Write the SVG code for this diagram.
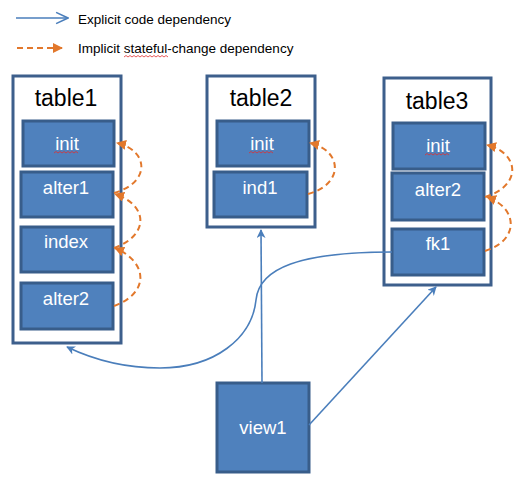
<svg xmlns="http://www.w3.org/2000/svg" width="522" height="488" viewBox="0 0 522 488">
<defs>
<style>
.outer{fill:#fff;stroke:#3d5f8c;stroke-width:3}
.inner{fill:#4f81bd;stroke:#385d8a;stroke-width:3}
.title{font-family:"Liberation Sans",Arial,sans-serif;font-size:23px;fill:#000;text-anchor:middle}
.lbl{font-family:"Liberation Sans",Arial,sans-serif;font-size:18.5px;fill:#fff;text-anchor:middle}
.leg{font-family:"Liberation Sans",Arial,sans-serif;font-size:13.5px;fill:#000}
.blue{fill:none;stroke:#4a7ebb;stroke-width:1.6}
.orange{fill:none;stroke:#e2782c;stroke-width:2;stroke-dasharray:6 4}
.squig{fill:none;stroke:#e03030;stroke-width:0.8}
</style>
<marker id="ab" viewBox="0 0 10 10" refX="9" refY="5" markerWidth="9" markerHeight="9" markerUnits="userSpaceOnUse" orient="auto">
<path d="M0,0 L10,5 L0,10 L3,5 Z" fill="#4a7ebb"/>
</marker>
<marker id="abl" viewBox="0 0 10 10" refX="9.5" refY="5" markerWidth="14" markerHeight="14" markerUnits="userSpaceOnUse" orient="auto">
<path d="M1,1 L9.5,5 L1,9" fill="none" stroke="#4a7ebb" stroke-width="1.1"/>
</marker>
<marker id="ao" viewBox="0 0 10 10" refX="9" refY="5" markerWidth="10" markerHeight="10" markerUnits="userSpaceOnUse" orient="auto">
<path d="M0,0 L10,5 L0,10 Z" fill="#e2782c"/>
</marker>
</defs>

<g id="legend">
<path class="blue" d="M16,18 L68,18" marker-end="url(#abl)"/>
<text class="leg" x="78" y="24">Explicit code dependency</text>
<path class="orange" d="M17,48 L62,48" stroke-dasharray="6 5" marker-end="url(#ao)"/>
<text class="leg" x="78" y="53">Implicit stateful-change dependency</text>
<path class="squig" d="M124,57 l2,-1.5 l2,1.5 l2,-1.5 l2,1.5 l2,-1.5 l2,1.5 l2,-1.5 l2,1.5 l2,-1.5 l2,1.5 l2,-1.5 l2,1.5 l2,-1.5 l2,1.5 l2,-1.5 l2,1.5 l2,-1.5 l2,1.5 l2,-1.5 l2,1.5 l2,-1.5 l2,1.5"/>
</g>

<g id="table1">
<rect class="outer" x="13" y="76" width="108" height="267"/>
<text class="title" x="66" y="106">table1</text>
</g>
<g id="table1-init">
<rect class="inner" x="23" y="121" width="91" height="45"/>
<text class="lbl" x="67" y="150">init</text>
<path class="squig" d="M54,153 l2,-1.5 l2,1.5 l2,-1.5 l2,1.5 l2,-1.5 l2,1.5 l2,-1.5 l2,1.5 l2,-1.5 l2,1.5 l2,-1.5 l2,1.5"/>
</g>
<g id="table1-alter1">
<rect class="inner" x="21" y="172" width="92" height="45"/>
<text class="lbl" x="66" y="194">alter1</text>
</g>
<g id="table1-index">
<rect class="inner" x="21" y="227" width="92" height="45"/>
<text class="lbl" x="66" y="248">index</text>
</g>
<g id="table1-alter2">
<rect class="inner" x="21" y="283" width="92" height="46"/>
<text class="lbl" x="66" y="305">alter2</text>
</g>

<g id="table2">
<rect class="outer" x="207" y="76" width="108" height="151"/>
<text class="title" x="261" y="106">table2</text>
</g>
<g id="table2-init">
<rect class="inner" x="217" y="121" width="92" height="45"/>
<text class="lbl" x="262" y="150">init</text>
<path class="squig" d="M249,153 l2,-1.5 l2,1.5 l2,-1.5 l2,1.5 l2,-1.5 l2,1.5 l2,-1.5 l2,1.5 l2,-1.5 l2,1.5 l2,-1.5 l2,1.5"/>
</g>
<g id="table2-ind1">
<rect class="inner" x="214" y="172" width="93" height="45"/>
<text class="lbl" x="260" y="194">ind1</text>
</g>

<g id="table3">
<rect class="outer" x="384" y="78" width="107" height="207"/>
<text class="title" x="437" y="109">table3</text>
</g>
<g id="table3-init">
<rect class="inner" x="393" y="123" width="92" height="46"/>
<text class="lbl" x="438" y="152">init</text>
<path class="squig" d="M425,155 l2,-1.5 l2,1.5 l2,-1.5 l2,1.5 l2,-1.5 l2,1.5 l2,-1.5 l2,1.5 l2,-1.5 l2,1.5 l2,-1.5 l2,1.5"/>
</g>
<g id="table3-alter2">
<rect class="inner" x="392" y="173" width="92" height="47"/>
<text class="lbl" x="438" y="196">alter2</text>
</g>
<g id="table3-fk1">
<rect class="inner" x="392" y="229" width="92" height="46"/>
<text class="lbl" x="438" y="250">fk1</text>
</g>

<g id="view1">
<rect class="inner" x="217" y="383" width="92" height="89"/>
<text class="lbl" x="263" y="434">view1</text>
</g>

<g id="connectors">
<path class="blue" d="M262,383 L261,230" marker-end="url(#ab)"/>
<path class="blue" d="M309,425 L436,287" marker-end="url(#ab)"/>
<path class="blue" d="M392,252 C300,252 259,268 256,300 C252,338 215,368 160,368 C120,368 90,358 67,347" marker-end="url(#ab)"/>
<path class="orange" d="M114,193 C152,182 148,150 117,143" marker-end="url(#ao)"/>
<path class="orange" d="M114,248 C150,235 148,205 115,194" marker-end="url(#ao)"/>
<path class="orange" d="M114,306 C150,293 148,262 115,248" marker-end="url(#ao)"/>
<path class="orange" d="M308,194 C345,184 342,150 310,143" marker-end="url(#ao)"/>
<path class="orange" d="M485,197 C522,186 520,153 487,145" marker-end="url(#ao)"/>
<path class="orange" d="M485,251 C520,240 518,208 487,197" marker-end="url(#ao)"/>
</g>
</svg>
